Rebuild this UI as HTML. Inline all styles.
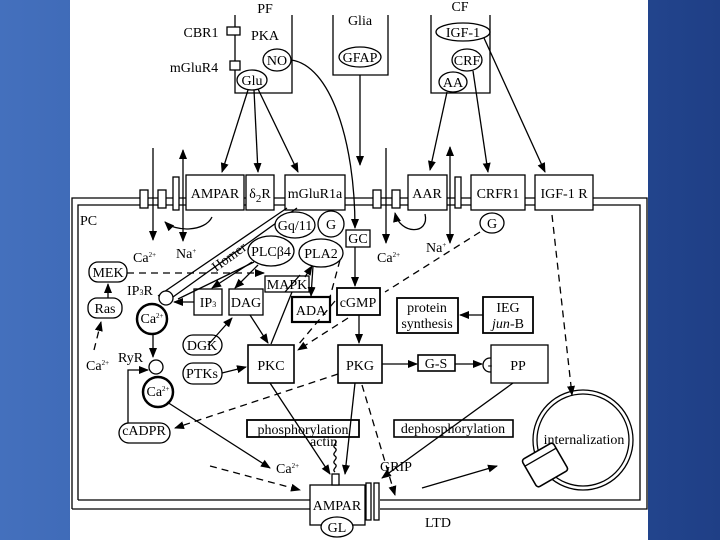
<!DOCTYPE html>
<html><head><style>
html,body{margin:0;padding:0;width:720px;height:540px;overflow:hidden;background:linear-gradient(90deg,#4470bd,#2f58a6 50%,#1f3f86);}
svg{position:absolute;left:0;top:0}
text{font-family:"Liberation Serif",serif;font-size:14px;fill:#000}
</style></head><body>
<svg width="720" height="540" viewBox="0 0 720 540">
<defs>
<marker id="a" markerWidth="10" markerHeight="10" refX="9" refY="5" orient="auto" markerUnits="userSpaceOnUse"><path d="M0,1 L10,5 L0,9 z" fill="#000"/></marker>
<marker id="s" markerWidth="10" markerHeight="10" refX="1" refY="5" orient="auto" markerUnits="userSpaceOnUse"><path d="M10,1 L0,5 L10,9 z" fill="#000"/></marker>
</defs>
<rect x="70" y="0" width="578" height="540" fill="#fff"/>
<g stroke="#000" stroke-width="1.3" fill="none">
<path d="M72,509 V198 H647 V509 H380"/>
<path d="M78,500 V205 H640 V500 H380"/>
<path d="M72,509 H310 M78,500 H310"/>
<path d="M235,15 V93 H292 V15"/>
<path d="M333,15 V75 H388 V15"/>
<path d="M431,15 V93 H490 V15"/>
<rect x="227" y="27" width="13" height="8" fill="#fff"/>
<rect x="230" y="61" width="10" height="9" fill="#fff"/>
<rect x="140" y="190" width="8" height="18" fill="#fff"/>
<rect x="158" y="190" width="8" height="18" fill="#fff"/>
<rect x="173" y="177" width="6" height="33" fill="#fff"/>
<rect x="186" y="175" width="58" height="35" fill="#fff"/>
<rect x="246" y="175" width="28" height="35" fill="#fff"/>
<rect x="285" y="175" width="60" height="35" fill="#fff"/>
<rect x="373" y="190" width="8" height="18" fill="#fff"/>
<rect x="392" y="190" width="8" height="18" fill="#fff"/>
<rect x="408" y="175" width="39" height="35" fill="#fff"/>
<rect x="455" y="177" width="6" height="31" fill="#fff"/>
<rect x="471" y="175" width="54" height="35" fill="#fff"/>
<rect x="535" y="175" width="58" height="35" fill="#fff"/>
<ellipse cx="277" cy="60" rx="14" ry="11"/>
<ellipse cx="252" cy="80" rx="15" ry="10"/>
<ellipse cx="360" cy="57" rx="21" ry="10"/>
<ellipse cx="463" cy="32" rx="27" ry="9"/>
<ellipse cx="467" cy="60" rx="15" ry="11"/>
<ellipse cx="453" cy="82" rx="14" ry="10"/>
<path d="M248,90 L222,172" marker-end="url(#a)"/>
<path d="M254,90 L258,172" marker-end="url(#a)"/>
<path d="M258,89 L298,172" marker-end="url(#a)"/>
<path d="M291,60 C330,65 355,140 355,228" marker-end="url(#a)"/>
<path d="M360,75 V165" marker-end="url(#a)"/>
<path d="M447,92 L430,170" marker-end="url(#a)"/>
<path d="M473,71 L488,172" marker-end="url(#a)"/>
<path d="M484,38 L545,172" marker-end="url(#a)"/>
<path d="M153,148 V240" marker-end="url(#a)"/>
<path d="M183,150 V241" marker-end="url(#a)" marker-start="url(#s)"/>
<path d="M212,217 C205,232 175,232 165,222" marker-end="url(#a)"/>
<path d="M386,148 V243" marker-end="url(#a)"/>
<path d="M450,147 V243" marker-end="url(#a)" marker-start="url(#s)"/>
<path d="M425,214 C430,235 400,235 395,213" marker-end="url(#a)"/>
<ellipse cx="492" cy="223" rx="12" ry="10"/>
<path d="M287,208 L158,296 M297,208 L166,302"/>
<ellipse cx="295" cy="225" rx="20" ry="13" fill="#fff"/>
<ellipse cx="331" cy="224" rx="13" ry="13" fill="#fff"/>
<rect x="346" y="230" width="24" height="17" fill="#fff"/>
<ellipse cx="271" cy="251" rx="23" ry="15" fill="#fff"/>
<ellipse cx="321" cy="253" rx="22" ry="14" fill="#fff"/>
<rect x="265" y="276" width="44" height="16" fill="#fff"/>
<rect x="194" y="289" width="28" height="26" fill="#fff"/>
<rect x="229" y="289" width="34" height="26" fill="#fff"/>
<rect x="292" y="297" width="38" height="25" fill="#fff" stroke-width="2.2"/>
<rect x="337" y="288" width="43" height="27" fill="#fff" stroke-width="1.8"/>
<rect x="397" y="298" width="61" height="35" fill="#fff" stroke-width="1.8"/>
<rect x="483" y="297" width="50" height="36" fill="#fff" stroke-width="1.8"/>
<rect x="89" y="262" width="38" height="20" rx="9" fill="#fff"/>
<rect x="88" y="298" width="34" height="20" rx="9" fill="#fff"/>
<circle cx="166" cy="298" r="7" fill="#fff"/>
<ellipse cx="152" cy="319" rx="15" ry="15" stroke-width="2.5" fill="#fff"/>
<circle cx="156" cy="367" r="7" fill="#fff"/>
<ellipse cx="158" cy="392" rx="15" ry="15" stroke-width="2.5" fill="#fff"/>
<rect x="119" y="423" width="51" height="20" rx="10" fill="#fff"/>
<rect x="183" y="335" width="39" height="20" rx="10" fill="#fff"/>
<rect x="183" y="363" width="39" height="21" rx="10" fill="#fff"/>
<rect x="248" y="345" width="46" height="38" fill="#fff" stroke-width="1.6"/>
<rect x="338" y="345" width="44" height="38" fill="#fff" stroke-width="1.6"/>
<rect x="418" y="355" width="37" height="16" fill="#fff" stroke-width="1.6"/>
<circle cx="490" cy="365" r="7"/>
<rect x="491" y="345" width="57" height="38" fill="#fff"/>
<rect x="247" y="420" width="112" height="17" fill="#fff" stroke-width="1.8"/>
<rect x="394" y="420" width="119" height="17" fill="#fff" stroke-width="1.6"/>
<circle cx="583" cy="440" r="50"/>
<circle cx="583" cy="440" r="46"/>
<g transform="rotate(-30 545 465)"><rect x="527" y="449" width="36" height="32" rx="3" fill="#fff" stroke-width="1.6"/><path d="M527,456 H563"/></g>
<rect x="310" y="485" width="55" height="40" fill="#fff"/>
<ellipse cx="337" cy="527" rx="16" ry="10" fill="#fff"/>
<rect x="366" y="483" width="5" height="37" fill="#fff"/>
<rect x="374" y="483" width="5" height="37" fill="#fff"/>
<rect x="332" y="474" width="7" height="11" fill="#fff"/>
<path d="M335,440 c4,3 -4,5 0,8 c4,3 -4,5 0,8 c4,3 -4,5 0,8 c4,3 -4,5 0,8"/>
<path d="M258,265 L235,288" marker-end="url(#a)"/>
<path d="M252,262 L212,288" marker-end="url(#a)"/>
<path d="M254,262 L178,299" />
<path d="M194,302 H174" marker-end="url(#a)"/>
<path d="M285,292 L300,275"/>
<path d="M305,277 L312,266" marker-end="url(#a)"/>
<path d="M313,266 L311,296" marker-end="url(#a)"/>
<path d="M355,247 V286" marker-end="url(#a)"/>
<path d="M359,315 V343" marker-end="url(#a)"/>
<path d="M483,315 H460" marker-end="url(#a)"/>
<path d="M382,364 H417" marker-end="url(#a)"/>
<path d="M455,364 H482" marker-end="url(#a)"/>
<path d="M108,298 V284" marker-end="url(#a)"/>
<path d="M153,334 V357" marker-end="url(#a)"/>
<path d="M128,423 V370 H148" marker-end="url(#a)"/>
<path d="M208,345 L232,318" marker-end="url(#a)"/>
<path d="M222,373 L246,367" marker-end="url(#a)"/>
<path d="M250,315 L268,343" marker-end="url(#a)"/>
<path d="M271,344 L292,292"/>
<path d="M167,402 L270,468" marker-end="url(#a)"/>
<path d="M270,383 L330,474" marker-end="url(#a)"/>
<path d="M355,383 L345,474" marker-end="url(#a)"/>
<path d="M513,383 L382,478" marker-end="url(#a)"/>
<path d="M422,488 L497,466" marker-end="url(#a)"/>
<g stroke-dasharray="7,5">
<path d="M127,273 H264" marker-end="url(#a)"/>
<path d="M94,350 L101,322" marker-end="url(#a)"/>
<path d="M480,232 L385,292"/>
<path d="M552,215 L572,395" marker-end="url(#a)"/>
<path d="M348,318 L298,350" marker-end="url(#a)"/>
<path d="M340,260 L330,297" />
<path d="M335,301 L298,345" />
<path d="M338,374 L175,428" marker-end="url(#a)"/>
<path d="M210,466 L300,490" marker-end="url(#a)"/>
<path d="M362,385 L395,495" marker-end="url(#a)"/>
</g>
</g>
<g text-anchor="middle">
<text x="265" y="13">PF</text>
<text x="360" y="25">Glia</text>
<text x="460" y="11">CF</text>
<text x="201" y="37">CBR1</text>
<text x="194" y="72">mGluR4</text>
<text x="265" y="40">PKA</text>
<text x="277" y="65" font-size="13">NO</text>
<text x="252" y="85" font-size="13">Glu</text>
<text x="360" y="62" font-size="13">GFAP</text>
<text x="463" y="37" font-size="13">IGF-1</text>
<text x="467" y="65" font-size="13">CRF</text>
<text x="453" y="87" font-size="13">AA</text>
<text x="215" y="198">AMPAR</text>
<text x="260" y="198">δ<tspan font-size="11" dy="4">2</tspan><tspan dy="-4">R</tspan></text>
<text x="315" y="198">mGluR1a</text>
<text x="427" y="198">AAR</text>
<text x="498" y="198">CRFR1</text>
<text x="564" y="198">IGF-1 R</text>
<text x="492" y="228" font-size="13">G</text>
<text x="295" y="230" font-size="13">Gq/11</text>
<text x="331" y="229" font-size="13">G</text>
<text x="358" y="243" font-size="13">GC</text>
<text x="271" y="256" font-size="13">PLCβ4</text>
<text x="321" y="258" font-size="13">PLA2</text>
<text x="287" y="289" font-size="13">MAPK</text>
<text x="208" y="307" font-size="13">IP<tspan font-size="8">3</tspan></text>
<text x="246" y="307">DAG</text>
<text x="311" y="315">ADA</text>
<text x="358" y="307">cGMP</text>
<text x="427" y="312">protein</text>
<text x="427" y="328">synthesis</text>
<text x="508" y="312">IEG</text>
<text x="508" y="328"><tspan font-style="italic">jun</tspan>-B</text>
<text x="108" y="277" font-size="13">MEK</text>
<text x="105" y="313" font-size="13">Ras</text>
<text x="152" y="323" font-size="12">Ca<tspan font-size="7" dy="-5">2+</tspan></text>
<text x="158" y="396" font-size="12">Ca<tspan font-size="7" dy="-5">2+</tspan></text>
<text x="144" y="435" font-size="13">cADPR</text>
<text x="202" y="350" font-size="13">DGK</text>
<text x="202" y="378" font-size="13">PTKs</text>
<text x="271" y="370">PKC</text>
<text x="360" y="370">PKG</text>
<text x="436" y="368" font-size="13">G-S</text>
<text x="490" y="369" font-size="12">-</text>
<text x="518" y="370">PP</text>
<text x="303" y="434" font-size="13">phosphorylation</text>
<text x="453" y="433" font-size="13">dephosphorylation</text>
<text x="584" y="444" font-size="13">internalization</text>
<text x="337" y="510">AMPAR</text>
<text x="337" y="532" font-size="13">GL</text>
<text x="438" y="527">LTD</text>
</g>
<text x="80" y="225">PC</text>
<text x="133" y="262" font-size="12">Ca<tspan font-size="7" dy="-5">2+</tspan></text>
<text x="176" y="258" font-size="12">Na<tspan font-size="7" dy="-5">+</tspan></text>
<text x="377" y="262" font-size="12">Ca<tspan font-size="7" dy="-5">2+</tspan></text>
<text x="426" y="252" font-size="12">Na<tspan font-size="7" dy="-5">+</tspan></text>
<text x="127" y="295" font-size="13">IP<tspan font-size="8">3</tspan>R</text>
<text x="118" y="362" font-size="13">RyR</text>
<text x="86" y="370" font-size="12">Ca<tspan font-size="7" dy="-5">2+</tspan></text>
<text x="276" y="473" font-size="12">Ca<tspan font-size="7" dy="-5">2+</tspan></text>
<text x="310" y="446" font-size="9">actin</text>
<text x="380" y="471" font-family="Liberation Sans" font-size="9">GRIP</text>
<text x="0" y="0" font-size="13" transform="translate(216,272) rotate(-36)">Homer</text>
</svg>
</body></html>
